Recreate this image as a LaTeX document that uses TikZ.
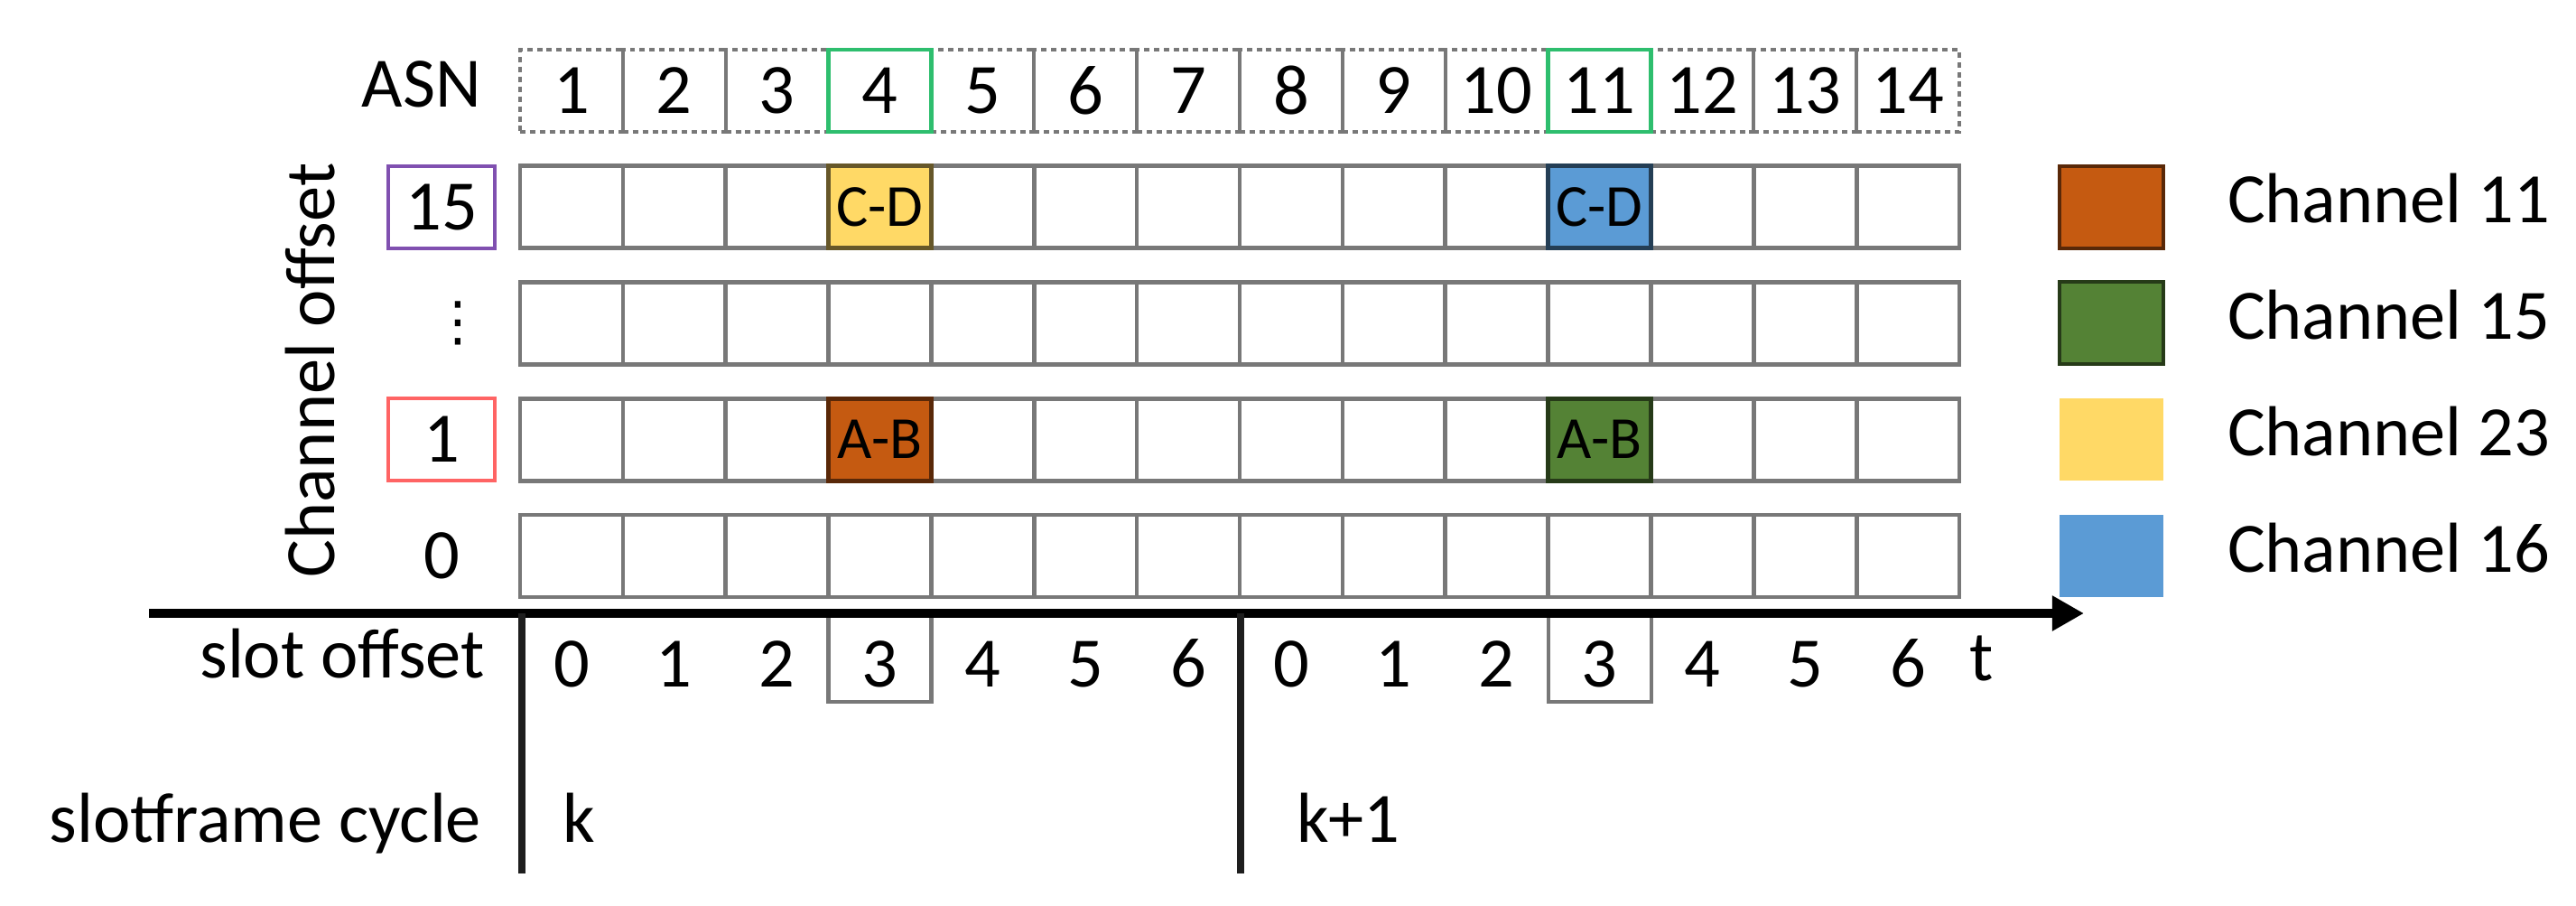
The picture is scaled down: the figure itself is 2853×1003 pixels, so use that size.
\documentclass[tikz,border=0pt]{standalone}
\usepackage{fontspec}
\setmainfont{Carlito}
\newfontfamily\dejavu{DejaVu Sans}
\usetikzlibrary{arrows.meta}
\definecolor{cellgray}{RGB}{120,120,120}
\definecolor{chorange}{RGB}{197,90,17}
\definecolor{chgreen}{RGB}{84,130,53}
\definecolor{chyellow}{RGB}{255,217,102}
\definecolor{chblue}{RGB}{91,155,213}
\definecolor{asngreen}{RGB}{46,190,110}
\definecolor{lblpurple}{RGB}{128,80,176}
\definecolor{lblred}{RGB}{255,100,100}
\definecolor{vline}{RGB}{30,30,30}
\begin{document}
\begin{tikzpicture}[x=0.01cm,y=-0.01cm,
  every node/.style={inner sep=0pt, outer sep=0pt},
  txt/.style={font=\fontsize{22.3}{26}\selectfont},
  smalltxt/.style={font=\fontsize{18.8}{22}\selectfont},
  cell/.style={draw=cellgray, line width=1.3pt, minimum width=1.1386cm, minimum height=0.91cm},
  asncell/.style={draw=cellgray, line width=1.2pt, dash pattern=on 1.7pt off 1.4pt, minimum width=1.1386cm, minimum height=0.91cm, txt},
  hiasn/.style={draw=asngreen, line width=1.3pt},
  lblbox/.style={line width=1.3pt, minimum width=1.18cm, minimum height=0.91cm, txt},
  legbox/.style={minimum width=1.15cm, minimum height=0.91cm},
  axisline/.style={line width=2.6pt, -{Triangle[length=10pt,width=10.5pt]}},
  cycleline/.style={draw=vline, line width=2pt}
]
\useasboundingbox (0,0) rectangle (2853,1003);

% ASN label and row
\node[txt, anchor=base east] (asnlbl) at (533,118) {ASN};
\foreach \i [count=\n] in {0,...,13} {
  \node[asncell] (a-\i) at ({576+113.86*\i+56.93},100.5) {\n};
}
\draw[hiasn] (a-3.south west) rectangle (a-3.north east);
\draw[hiasn] (a-10.south west) rectangle (a-10.north east);

% grid rows
\foreach \r/\k in {r15/1, rdots/2, r1/3, r0/4} {
  \foreach \i in {0,...,13} {
    \node[cell] (\r-\i) at ({576+113.86*\i+56.93},{55+128.75*\k+45.5}) {};
  }
}

% coloured cells
\node[cell, fill=chyellow, draw=chyellow!40!black, smalltxt] (cd1) at (r15-3) {C-D};
\node[cell, fill=chblue, draw=chblue!40!black, smalltxt] (cd2) at (r15-10) {C-D};
\node[cell, fill=chorange, draw=chorange!45!black, smalltxt] (ab1) at (r1-3) {A-B};
\node[cell, fill=chgreen, draw=chgreen!45!black, smalltxt] (ab2) at (r1-10) {A-B};

% row labels
\node[lblbox, draw=lblpurple] (l15) at (489,229.5) {15};
\node[font=\dejavu\fontsize{17}{20}\selectfont] (ldots) at (507,357.5) {⋮};
\node[lblbox, draw=lblred] (l1) at (489,486.5) {1};
\node[txt] (l0) at (489,615.5) {0};
\node[txt, rotate=90, anchor=base] (chofs) at (370,410) {Channel offset};

% legend
\node[legbox, fill=chorange, draw=chorange!45!black, line width=1pt] (g1) at (2338.5,229.5) {};
\node[legbox, fill=chgreen, draw=chgreen!45!black, line width=1pt] (g2) at (2338.5,357.5) {};
\node[legbox, fill=chyellow] (g3) at (2338.5,486.5) {};
\node[legbox, fill=chblue] (g4) at (2338.5,615.5) {};
\node[txt, anchor=base west] (t1) at (2467,246.5) {Channel 11};
\node[txt, anchor=base west] (t2) at (2467,375) {Channel 15};
\node[txt, anchor=base west] (t3) at (2467,504) {Channel 23};
\node[txt, anchor=base west] (t4) at (2467,633) {Channel 16};

% slot offset boxes (behind axis)
\node[draw=cellgray, line width=1.2pt, minimum width=1.1386cm, minimum height=0.97cm] (sb1) at (974.5,728.5) {};
\node[draw=cellgray, line width=1.2pt, minimum width=1.1386cm, minimum height=0.97cm] (sb2) at (1771.7,728.5) {};

% time axis
\coordinate (axL) at (165,679);
\coordinate (axR) at (2308,679);
\draw[axisline] (axL) -- (axR);

% slotframe separators
\coordinate (v1t) at (578,679);
\coordinate (v1b) at (578,967);
\coordinate (v2t) at (1374,679);
\coordinate (v2b) at (1374,967);
\draw[cycleline] (v1t) -- (v1b);
\draw[cycleline] (v2t) -- (v2b);

% slot offsets
\node[txt, anchor=base east] (slotlbl) at (537,750) {slot offset};
\foreach \i in {0,...,13} {
  \pgfmathtruncatemacro\d{mod(\i,7)}
  \node[txt, anchor=base] (s-\i) at ({576+113.86*\i+56.93},760) {\d};
}
\node[txt, anchor=base] (tlbl) at (2195,753) {t};

% slotframe cycle
\node[txt, anchor=base east] (cyclbl) at (533,932) {slotframe cycle};
\node[txt, anchor=base west] (k1) at (623,932) {k};
\node[txt, anchor=base west] (k2) at (1436,932) {k+1};
\end{tikzpicture}
\end{document}
